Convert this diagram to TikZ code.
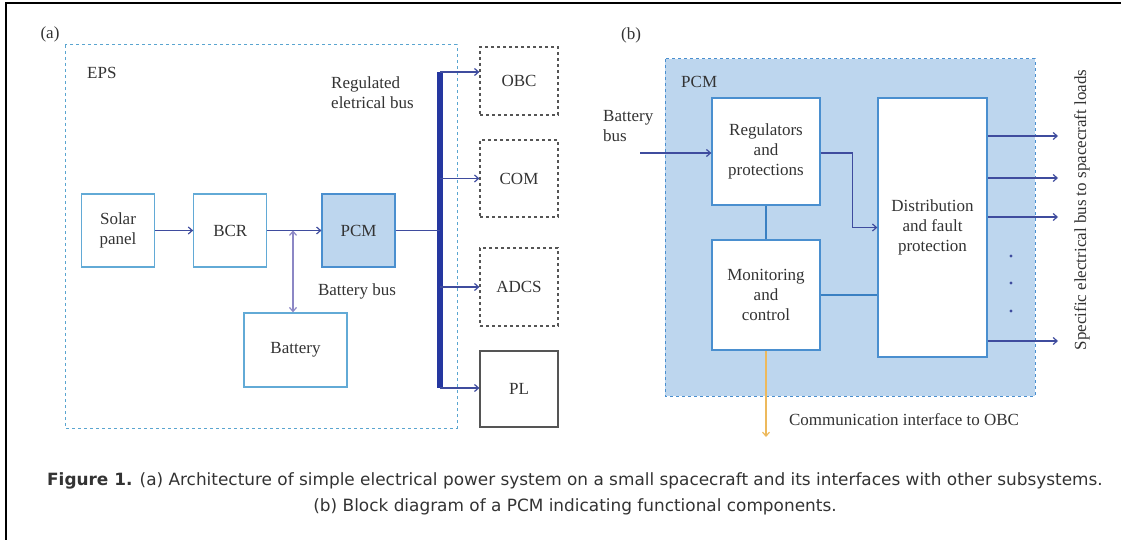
\documentclass[tikz,border=0pt]{standalone}
\usepackage{fontspec}
\setmainfont{Liberation Serif}
\newfontfamily\capfont{DejaVu Sans}
\usetikzlibrary{arrows.meta, positioning, calc}
\definecolor{textGray}{HTML}{333333}
\definecolor{boxBlue}{HTML}{62AAD6}
\definecolor{epsBlue}{HTML}{5AA5D0}
\definecolor{pcmFill}{HTML}{BDD6EE}
\definecolor{pcmBorder}{HTML}{4A8FCF}
\definecolor{busBlue}{HTML}{2537A0}
\definecolor{arrowBlue}{HTML}{3F4C9E}
\definecolor{batArrow}{HTML}{8C87C5}
\definecolor{loadGray}{HTML}{555555}
\definecolor{linkBlue}{HTML}{3A80C2}
\definecolor{obcOrange}{HTML}{EDB95C}

\begin{document}
\begin{tikzpicture}[
    x=1pt, y=-1pt,
    font=\fontsize{17}{20}\selectfont,
    text=textGray,
    % Blocks of the EPS
    block/.style={
        rectangle,
        draw=boxBlue,
        fill=white,
        line width=1.3pt,
        inner sep=0pt,
        align=center,
        minimum width=73pt,
        minimum height=73pt
    },
    % Subsystems fed by the bus
    load/.style={
        rectangle,
        draw=loadGray,
        dashed,
        line width=1.2pt,
        inner sep=0pt,
        align=center,
        minimum width=78pt
    },
    % Framed areas
    area/.style={
        draw=epsBlue,
        dashed,
        line width=1pt
    },
    % Connecting lines
    arr/.style={
        draw=arrowBlue,
        line width=1.2pt,
        -{Straight Barb[length=4pt,width=7pt]}
    },
    line/.style={
        draw=arrowBlue,
        line width=1.2pt
    },
    link/.style={
        draw=linkBlue,
        line width=1.2pt
    },
    label/.style={
        inner sep=0pt,
        align=left
    },
    caption/.style={
        inner sep=0pt,
        font=\capfont\fontsize{16.9}{20}\selectfont
    }
]

\useasboundingbox (0,0) rectangle (1121,540);

% --- FRAME ---
\draw[line width=1.5pt, black] (6,540) -- (6,3) -- (1121,3);

% --- PANEL (a): EPS ---
\node[label] (TagA) at (50,34) {(a)};
\draw[area] (65,45) rectangle (457,428);
\node[label, anchor=west] (EPSLabel) at (87,73) {EPS};

\node[block] (Solar) at (118,230.5) {Solar\\panel};
\node[block, right=38pt of Solar] (BCR) {BCR};
\node[block, right=54pt of BCR, fill=pcmFill, draw=pcmBorder] (PCM) {PCM};
\node[block, minimum width=103pt, minimum height=74pt] (Battery) at (295.5,350) {Battery};

\node[label, anchor=west] (RegBus) at (331,93) {Regulated\\eletrical bus};
\node[label] (BatBus) at (357,291) {Battery bus};

% Loads
\node[load, minimum height=68pt] (OBC) at (519,81) {OBC};
\node[load, minimum height=77pt] (COM) at (519,178.5) {COM};
\node[load, minimum height=78pt] (ADCS) at (519,287) {ADCS};
\node[load, minimum height=76pt, solid] (PL) at (519,389) {PL};

% Regulated bus
\coordinate (BusTop) at (440,72);
\coordinate (BusBot) at (440,388);
\draw[draw=busBlue, line width=6pt] (BusTop) -- (BusBot);

% --- CONNECTIONS (a) ---
\draw[arr] (Solar) -- (BCR);
\draw[arr] (BCR) -- (PCM);
\draw[draw=batArrow, line width=1.2pt, {Straight Barb[length=4pt,width=7pt]}-{Straight Barb[length=4pt,width=7pt]}]
    (Battery.north -| 293,0) -- (PCM.west -| 293,0);
\draw[line] (PCM.east) -- (PCM.east -| BusTop);
\draw[arr] (BusTop) -- (BusTop -| OBC.west);
\draw[arr] (COM.west -| BusTop) -- (COM.west);
\draw[arr] (ADCS.west -| BusTop) -- (ADCS.west);
\draw[arr] (BusBot) -- (BusBot -| PL.west);

% --- PANEL (b): PCM ---
\node[label] (TagB) at (631,35) {(b)};
\draw[area, fill=pcmFill, draw=pcmBorder] (665,59) rectangle (1035,396);
\node[label, anchor=west] (PCMLabel) at (681,82) {PCM};

\node[block, draw=pcmBorder, minimum width=108pt, minimum height=107pt] (Regs) at (766,151.5) {Regulators\\and\\protections};
\node[block, draw=pcmBorder, minimum width=108pt, minimum height=110pt] (Mon) at (766,295) {Monitoring\\and\\control};
\node[block, draw=pcmBorder, minimum width=109pt, minimum height=259pt] (Dist) at (932.5,227.5) {Distribution\\and fault\\protection};

\node[label, anchor=west] (BatIn) at (603,126) {Battery\\bus};
\node[label, rotate=90] (LoadBus) at (1082,210) {Specific electrical bus to spacecraft loads};
\node[label] (ComLabel) at (904,420) {Communication interface to OBC};

% --- CONNECTIONS (b) ---
\coordinate (BatStart) at (640,153);
\draw[arr] (BatStart) -- (BatStart -| Regs.west);
\draw[arr] (Regs.east |- BatStart) -- ++(32,0) |- (Dist.west);
\draw[link] (Regs.south) -- (Mon.north);
\draw[link] (Mon.east) -- (Mon.east -| Dist.west);
\foreach \y [count=\i] in {136,178,217,341} {
    \coordinate (Out\i) at (1058,\y);
    \draw[arr] (Dist.east |- Out\i) -- (Out\i);
}
\foreach \y in {256,283,311}
    \fill[arrowBlue] (1011,\y) circle (1.6pt);
\coordinate (OBCLink) at (766,437);
\draw[draw=obcOrange, line width=1.2pt, -{Straight Barb[length=4pt,width=7pt]}] (Mon.south) -- (OBCLink);

% --- CAPTION ---
\node[caption] (Cap1) at (575,481)
    {\textbf{Figure 1.} (a) Architecture of simple electrical power system on a small spacecraft and its interfaces with other subsystems.};
\node[caption] (Cap2) at (575,507)
    {(b) Block diagram of a PCM indicating functional components.};

\end{tikzpicture}
\end{document}
